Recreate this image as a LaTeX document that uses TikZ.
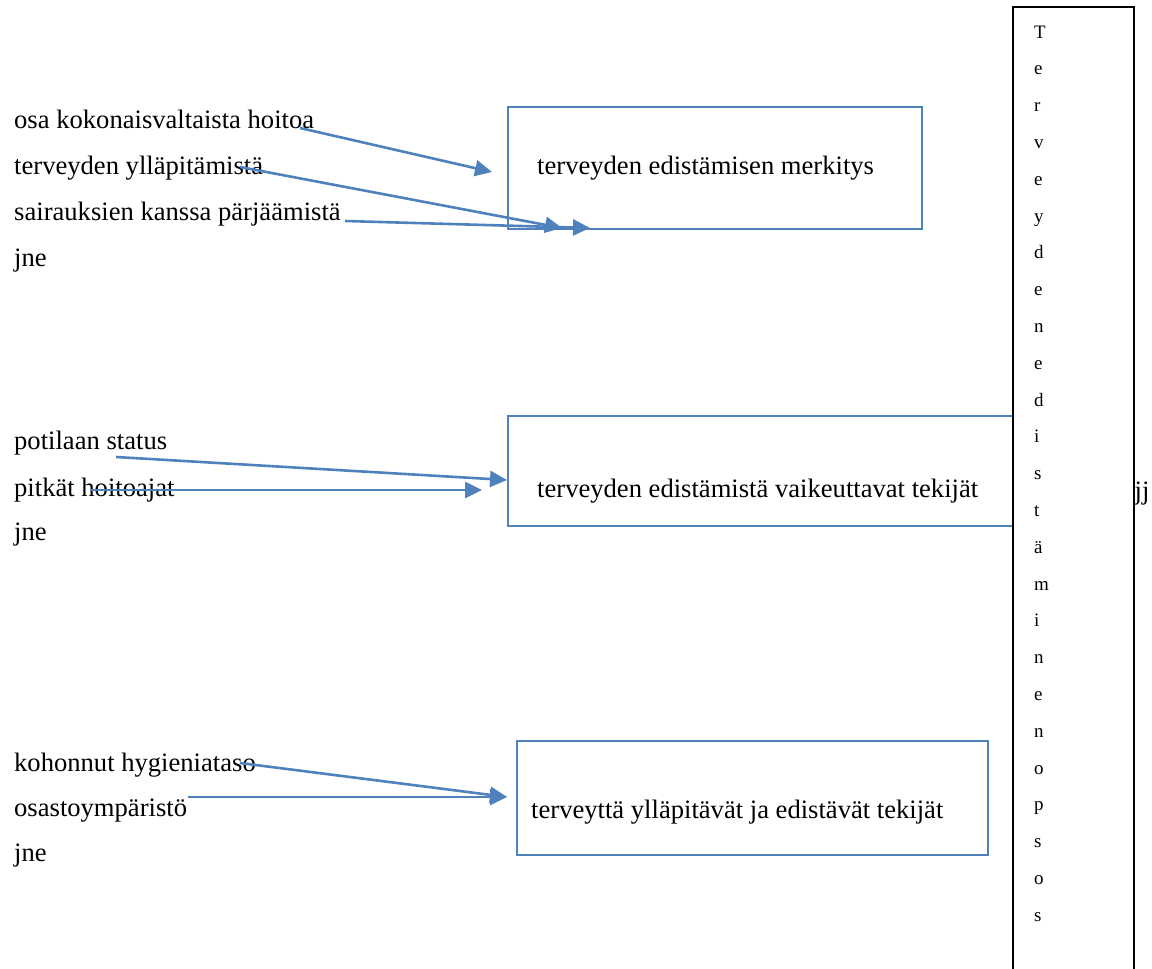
\documentclass[tikz,border=0pt]{standalone}
\usepackage{fontspec}
\setmainfont{Liberation Serif}
\usetikzlibrary{arrows.meta}
\definecolor{offblue}{RGB}{79,129,189}
\tikzset{
  lbl/.style={anchor=base west, inner sep=0pt, font=\fontsize{26.6}{30}\selectfont},
  vlet/.style={anchor=base west, inner sep=0pt, font=\fontsize{19}{22}\selectfont},
  bluebox/.style={draw=offblue, line width=1.7pt},
  conn/.style={draw=offblue, line width=2.6pt, -{Triangle[length=17pt,width=16pt]}},
}
\begin{document}
\begin{tikzpicture}[x=1pt,y=-1pt]
\useasboundingbox (0,0) rectangle (1152,969);
% left texts
\node[lbl] (t1) at (14,128) {osa kokonaisvaltaista hoitoa};
\node[lbl] (t2) at (14,174) {terveyden ylläpitämistä};
\node[lbl] (t3) at (14,220) {sairauksien kanssa pärjäämistä};
\node[lbl] (t4) at (14,266) {jne};
\node[lbl] (m1) at (14,449) {potilaan status};
\node[lbl] (m2) at (14,496) {pitkät hoitoajat};
\node[lbl] (m3) at (14,540) {jne};
\node[lbl] (b1) at (14,771) {kohonnut hygieniataso};
\node[lbl] (b2) at (14,816) {osastoympäristö};
\node[lbl] (b3) at (14,861) {jne};
% boxes
\draw[bluebox] (508,107) rectangle (922,229);
\node[lbl] (box1) at (537,174) {terveyden edistämisen merkitys};
\draw[bluebox] (508,416) rectangle (1040,526);
\node[lbl] (box2) at (537,497) {terveyden edistämistä vaikeuttavat tekijät};
\node[lbl] (jj) at (1127,499) {jjj};
\draw[bluebox] (517,741) rectangle (988,855);
\node[lbl] (box3) at (531,818) {terveyttä ylläpitävät ja edistävät tekijät};
% vertical box
\fill[white] (1013,7) rectangle (1134,975);
\draw[black, line width=1.7pt] (1013,975) -- (1013,7) -- (1134,7) -- (1134,975);
\foreach \ch [count=\k from 0] in {T,e,r,v,e,y,d,e,n,e,d,i,s,t,ä,m,i,n,e,n,o,p,s,o,s}{
  \node[vlet] (v\k) at (1034,38+36.8*\k) {\ch};
}
% connector endpoints
\coordinate (s1) at (300,128);
\coordinate (e1) at (492,172);
\coordinate (s2) at (240,167);
\coordinate (e2) at (562,228);
\coordinate (s3) at (345,221);
\coordinate (e3) at (590,228);
\coordinate (s4) at (116,457);
\coordinate (e4) at (507,480);
\coordinate (s5) at (90,490);
\coordinate (e5) at (482,490);
\coordinate (s6) at (240,763);
\coordinate (e6) at (507,797);
\coordinate (s7) at (188,797);
\coordinate (e7) at (507,797);
\foreach \i in {1,...,7}{\draw[conn] (s\i) -- (e\i);}
\end{tikzpicture}
\end{document}
